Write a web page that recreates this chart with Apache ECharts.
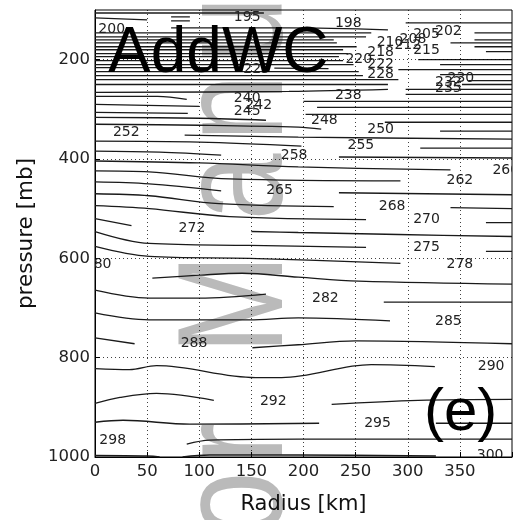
<!DOCTYPE html>
<html>
<head>
<meta charset="utf-8">
<script src="https://cdn.jsdelivr.net/npm/echarts@6.0.0/dist/echarts.min.js"></script>
<style>
html,body{margin:0;padding:0;background:#fff;}
#chart{width:515px;height:520px;}
</style>
</head>
<body>
<div id="chart"></div>
<script>
// Axis ticks
const radiusTicks = [0, 50, 100, 150, 200, 250, 300, 350];
const pressureTicks = [200, 400, 600, 800, 1000];
const radiusGrid = [50, 100, 150, 200, 250, 300, 350];
const pressureGrid = [200, 400, 600, 800];

// Contour labels (temperature, K) and where they sit (radius km, pressure mb)
const contourLevels = [200,195,198,202,205,208,210,212,215,218,220,222,225,228,230,232,235,238,240,242,245,248,250,252,255,258,260,262,265,268,270,272,275,278,280,282,285,288,290,292,295,298,300];
const labelRadius   = [16,146,243,339,318,305,283,300,318,274,253,274,155,274,351,339,339,243,146,157,146,220,274,30,255,191,394,350,177,285,318,93,318,350,3,221,339,95,380,171,271,17,379];
const labelPressure = [138,114,126,144,150,160,166,172,182,186,200,210,220,230,238,246,258,272,278,292,304,322,340,346,372,392,422,444,464,496,522,540,578,612,612,680,726,772,818,888,932,966,996];

// Contour line pieces: [radius km, pressure mb]
const contourPaths = [
 [[0,106],[162,106]],
 [[0,116],[50,120]],
 [[73,114],[91,114]],
 [[73,122],[91,122]],
 [[73,136],[186,136],[281,140]],
 [[298,126],[400,126]],
 [[0,146],[265,146]],
 [[0,154],[260,154]],
 [[0,160],[229,160]],
 [[0,166],[232,166]],
 [[0,174],[251,174]],
 [[0,180],[238,180]],
 [[0,188],[243,188]],
 [[0,194],[234,194]],
 [[0,202],[238,202]],
 [[0,210],[248,210]],
 [[0,216],[138,216]],
 [[172,217],[224,218]],
 [[0,224],[253,224]],
 [[0,232],[257,232]],
 [[0,240],[291,240]],
 [[0,250],[281,250]],
 [[0,266],[186,264],[281,260]],
 [[0,274],[60,274],[88,280]],
 [[0,290],[100,294]],
 [[0,306],[89,308]],
 [[0,316],[100,318],[164,322]],
 [[0,330],[100,332],[195,336],[217,340]],
 [[364,146],[400,146]],
 [[364,160],[400,160]],
 [[341,166],[400,166]],
 [[364,174],[400,174]],
 [[375,184],[400,184]],
 [[310,200],[400,200]],
 [[331,210],[400,210]],
 [[291,220],[400,220]],
 [[331,230],[400,230]],
 [[358,242],[400,242]],
 [[352,250],[400,250]],
 [[298,260],[400,260]],
 [[298,270],[400,270]],
 [[200,284],[400,284]],
 [[213,296],[400,296]],
 [[202,310],[400,310]],
 [[278,326],[400,326]],
 [[331,344],[400,344]],
 [[86,352],[195,356],[400,360]],
 [[0,364],[100,366],[198,374]],
 [[312,378],[400,378]],
 [[0,384],[62,386],[121,392]],
 [[234,396],[400,398]],
 [[0,404],[100,408],[195,416],[341,422]],
 [[0,424],[52,426],[129,440],[293,444]],
 [[0,446],[52,450],[121,464]],
 [[234,468],[400,472]],
 [[0,470],[52,474],[119,490],[229,496]],
 [[341,498],[400,500]],
 [[0,494],[52,500],[129,516],[260,522]],
 [[375,528],[400,528]],
 [[0,520],[35,534]],
 [[150,546],[195,548],[291,552],[400,556]],
 [[0,546],[52,570],[148,574],[260,578]],
 [[375,586],[400,586]],
 [[0,576],[52,596],[148,600],[293,610]],
 [[55,640],[100,634],[141,630],[195,638],[253,646],[400,652]],
 [[0,664],[52,680],[100,680],[164,672]],
 [[277,688],[400,688]],
 [[0,710],[52,724],[148,724],[195,720],[283,726]],
 [[0,760],[38,772]],
 [[151,780],[195,774],[250,766],[400,772]],
 [[0,822],[33,824],[59,816],[154,840],[179,840],[265,814],[326,818]],
 [[0,892],[24,880],[59,872],[114,886]],
 [[227,894],[310,886],[400,884]],
 [[0,930],[27,926],[91,934],[215,932]],
 [[327,932],[400,932]],
 [[88,974],[110,966],[195,964],[400,964]],
 [[0,997],[50,998],[62,1000]],
 [[84,1000],[110,996],[195,996],[327,998]]
];

// Watermark glyphs and their vertical centres (px)
const wmLetters = ['o','r','M','a','n','u'];
const wmCentres = [505, 443, 304, 187, 108, 30];

const chart = echarts.init(document.getElementById('chart'), null, {renderer:'canvas'});

const series = [];
series.push({
  type:'line', data:[], silent:true, z:1,
  markLine:{
    silent:true, symbol:['none','none'], animation:false,
    label:{show:false},
    lineStyle:{color:'#000', width:1, type:[1,3], opacity:0.75},
    data: radiusGrid.map(v=>({xAxis:v})).concat(pressureGrid.map(v=>({yAxis:v})))
  }
});
contourPaths.forEach(path=>{
  series.push({
    type:'line', data:path, showSymbol:false, symbol:'none', silent:true,
    smooth: path.length>2 ? 0.35 : false,
    lineStyle:{color:'#1a1a1a', width:1.3}, z:3, animation:false, clip:true
  });
});
series.push({
  type:'custom', coordinateSystem:'cartesian2d', clip:true, z:4, silent:true, animation:false,
  data: contourLevels.map((lv,i)=>[labelRadius[i], labelPressure[i], lv]),
  renderItem:(params, api)=>{
    const pt = api.coord([api.value(0), api.value(1)]);
    return {type:'text', x:pt[0], y:pt[1], style:{text:String(api.value(2)), fill:'#222',
      font:'14px "DejaVu Sans"', textAlign:'center', textVerticalAlign:'middle'}};
  }
});

const graphics = [];
wmLetters.forEach((ch,i)=>{
  graphics.push({type:'text', x:316, y:wmCentres[i], rotation:Math.PI/2, scaleX:0.8, z:-10, silent:true,
    style:{text:ch, font:'150px "Liberation Sans"', fill:'#bababa', textAlign:'center', textVerticalAlign:'bottom'}});
});
graphics.push({type:'text', left:108, top:22, z:100, silent:true,
  style:{text:'AddWC', font:'64px "Liberation Sans"', fill:'#000'}});
graphics.push({type:'text', left:424, top:383, z:100, silent:true,
  style:{text:'(e)', font:'60px "Liberation Sans"', fill:'#000'}});

chart.setOption({
  animation:false,
  backgroundColor:'#fff',
  grid:{left:95, right:0, top:10, bottom:59, show:true, borderColor:'#000', borderWidth:1, backgroundColor:'transparent'},
  xAxis:{
    type:'value', min:0, max:400, interval:50,
    name:'Radius [km]', nameLocation:'middle', nameGap:37,
    nameTextStyle:{fontFamily:'DejaVu Sans', fontSize:21, color:'#111'},
    axisLine:{show:true, lineStyle:{color:'#000', width:1}},
    axisTick:{show:true, inside:true, length:5, lineStyle:{color:'#000'}},
    axisLabel:{fontFamily:'DejaVu Sans', fontSize:16.5, color:'#222', margin:6,
      formatter:v=> radiusTicks.includes(v) ? String(v) : ''},
    splitLine:{show:false}
  },
  yAxis:{
    type:'value', inverse:true, min:100, max:1000,
    name:'pressure [mb]', nameLocation:'middle', nameGap:57, nameRotate:90,
    nameTextStyle:{fontFamily:'DejaVu Sans', fontSize:21.5, color:'#111'},
    axisLine:{show:true, lineStyle:{color:'#000', width:1}},
    axisTick:{show:true, inside:true, length:5, lineStyle:{color:'#000'}, customValues:pressureTicks},
    axisLabel:{fontFamily:'DejaVu Sans', fontSize:16.5, color:'#222', margin:5, customValues:pressureTicks,
      formatter:v=>String(v)},
    splitLine:{show:false}
  },
  graphic: graphics,
  series: series
});
</script>
</body>
</html>
